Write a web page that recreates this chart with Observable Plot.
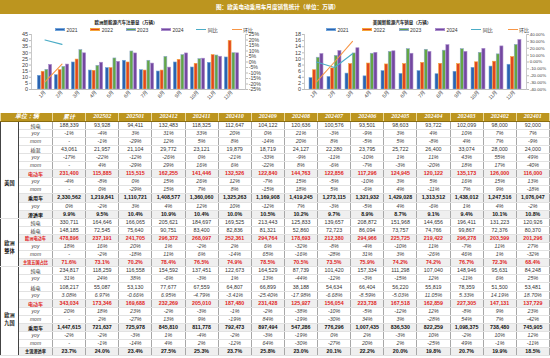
<!DOCTYPE html>
<html><head><meta charset="utf-8">
<script src="https://cdn.jsdelivr.net/npm/d3@7"></script>
<script src="https://cdn.jsdelivr.net/npm/@observablehq/plot@0.6"></script>
<style>
body{margin:0;width:550px;height:358px;overflow:hidden;background:#fff;position:relative;font-family:"Liberation Sans",Arial,"Noto Sans CJK SC",sans-serif}
#titlebar{position:absolute;left:0;top:0;width:550px;height:14px;background:#BC951F;color:#fff;font-family:"Noto Sans CJK SC";font-weight:bold;font-size:5.6px;line-height:14px;white-space:nowrap}
#titlebar span{position:absolute;left:216px;top:0}
.ctitle{position:absolute;font-family:"Noto Sans CJK SC";font-weight:bold;font-size:4.5px;line-height:6px;color:#222;white-space:nowrap;transform:translateX(-50%)}
.leg{position:absolute;height:6px;font-size:5px;line-height:6px;color:#333;white-space:nowrap}
.leg i{position:absolute;left:0;top:1.5px;width:10px;height:3px;box-sizing:border-box;border:0.6px solid}
.leg b{position:absolute;left:0;top:2.6px;width:10px;height:0;border-top:1.1px solid}
.leg span{position:absolute;left:11.5px;top:0;font-family:"Liberation Sans","Noto Sans CJK SC"}
.chart{position:absolute;top:31px}
#tbl{position:absolute;left:0;top:113px;border-collapse:collapse;table-layout:fixed;width:549px;font-size:5.3px;color:#333}
#tbl tr{height:8.1px}
#tbl td{padding:0;text-align:center;line-height:7px;border-left:1px solid #a8a8a8;border-right:1px solid #a8a8a8;border-bottom:1px solid #e2e2e2;white-space:nowrap;overflow:hidden}
#tbl td.lab{font-family:"Noto Sans CJK SC";font-size:5px}
#tbl td.sec{font-family:"Noto Sans CJK SC";font-weight:bold;font-size:5.2px;line-height:8px;color:#222;border-right:1px solid #444;border-left:1px solid #444}
#tbl tr.head td{background:#BC951F;color:#fff;font-family:"Liberation Serif";font-style:italic;font-weight:bold;font-size:6px;border-left:1px solid #e9d9a0;border-right:1px solid #e9d9a0;border-bottom:1px solid #8a6d10}
#tbl tr.first td{border-top:1px solid #333}
#tbl td.thick{border-left:1px solid #555}
#tbl tr.i td{font-style:italic;color:#444}
#tbl tr.i td.lab{font-family:"Liberation Sans";font-style:italic}
#tbl tr.b td{font-weight:bold;background:#efefef;color:#111}
#tbl tr.r td{font-weight:bold;background:#efefef;color:#E01E1E}
</style>
</head><body>
<div id="titlebar"><span>图：欧美电动乘用车月度销售统计（单位：万辆）</span></div>
<div id="root"></div>
<script>
// ---------- chart data (万辆) ----------
const months = ["1月","2月","3月","4月","5月","6月","7月","8月","9月","10月","11月","12月"];
const years = ["2021","2022","2023","2024"];
const eu2021 = [11.2,11.7,22.1,15.5,17.5,23.5,15.8,14.7,22.1,18.0,21.8,26.2];
const eu2022 = [14.5,15.8,24.5,15.3,17.5,22.1,15.5,15.5,24.3,21.0,28.1,39.8];
const eu2023 = [16.1,18.5,32.2,19.4,25.4,31.1,23.5,26.7,28.1,24.8,27.8,29.7];
const eu2024 = [20.1,20.4,29.6,21.9,22.6,29.5,21.2,17.9,29.5,25.2,26.8,29.6];
const euYoy = [20,16];      // 同比 %
const euMom = [-18,-2];     // 环比 %
const us2021 = [3.7,4.1,5.2,4.3,6.0,5.1,6.0,5.0,5.8,7.1,7.5,8.1];
const us2022 = [6.3,6.9,8.3,8.5,8.2,8.3,8.7,8.4,8.3,8.9,9.1,10.6];
const us2023 = [10.4,11.0,11.8,11.7,12.3,13.2,13.0,12.7,13.2,12.0,11.5,14.6];
const us2024 = [11.6,12.6,13.5,12.0,12.5,11.7,12.3,14.5,12.3,13.3,14.1,16.2];
const usYoy = [0,-8,12];
const usMom = [-29,0,30];
const legendNames = ["2021","2022","2023","2024","同比","环比"];

// ---------- table data (辆) ----------
const tableCols = ["累计","202502","202501","202412","202411","202410","202409","202408","202407","202406","202405","202404","202403","202402","202401"];
const usBev = ["188,339","93,928","94,411","132,483","118,325","112,647","104,122","120,636","100,576","93,501","98,603","93,722","102,099","98,000","92,000"];
const usBevYoy = ["-1%","-4%","3%","31%","33%","20%","0%","21%","-3%","-9%","3%","4%","10%","7%","7%"];
const usBevMom = ["-","-1%","-29%","12%","5%","8%","-14%","20%","8%","-5%","5%","-8%","4%","7%","-9%"];
const usPhev = ["43,061","21,957","21,104","29,772","23,121","19,879","18,719","24,127","22,280","23,795","25,722","26,400","33,074","28,000","24,000"];
const usPhevYoy = ["-17%","-22%","-12%","-26%","0%","-21%","-33%","-9%","-11%","-10%","1%","11%","43%","55%","49%"];
const usPhevMom = ["-","4%","-29%","29%","16%","6%","-22%","8%","-6%","-7%","-3%","-20%","18%","17%","-40%"];
const usEv = ["231,400","115,885","115,515","162,255","141,446","132,526","122,840","144,763","122,856","117,296","124,945","120,122","135,173","126,000","116,000"];
const usEvYoy = ["-4%","-8%","0%","15%","26%","12%","-7%","15%","-5%","-10%","3%","5%","16%","15%","13%"];
const usEvMom = ["-","0%","-29%","15%","7%","8%","-15%","18%","5%","-6%","4%","-11%","7%","9%","-18%"];
const usPv = ["2,330,562","1,219,841","1,110,721","1,408,577","1,360,060","1,325,263","1,169,908","1,419,245","1,273,115","1,321,932","1,429,028","1,313,512","1,438,012","1,247,516","1,076,047"];
const usPvYoy = ["0%","-2%","3%","4%","12%","10%","-12%","7%","-3%","-5%","4%","-6%","1%","4%","-2%"];
const usPen = ["9.9%","9.5%","10.4%","10.9%","10.4%","10.0%","10.5%","10.2%","9.7%","8.9%","8.7%","9.1%","9.4%","10.1%","10.8%"];
const euBev = ["330,711","164,646","166,065","205,621","184,697","169,525","213,443","125,833","139,657","208,872","151,968","144,656","196,411","131,223","120,926"];
const euPhev = ["148,185","72,545","75,640","90,751","83,400","82,836","81,321","52,860","72,723","86,094","73,757","74,766","99,867","72,376","80,370"];
const euEv = ["478,896","237,191","241,705","296,372","268,097","252,361","294,764","178,693","212,380","294,966","225,725","219,422","296,278","203,599","201,296"];
const euEvYoy = ["18%","16%","20%","1%","-2%","2%","6%","-32%","-8%","-4%","-10%","11%","-7%","11%","27%"];
const euEvMom = ["-","-2%","-18%","11%","6%","-14%","65%","-16%","-28%","31%","3%","-26%","46%","1%","-32%"];
const euShare = ["71.6%","73.1%","70.2%","78.4%","76.5%","74.9%","78.5%","70.5%","73.5%","75.9%","74.2%","74.2%","76.7%","72.3%","68.4%"];
const e9Bev = ["234,817","118,259","116,558","154,592","137,451","122,673","164,529","87,739","101,420","157,334","111,298","107,040","148,946","95,631","84,248"];
const e9BevYoy = ["31%","24%","38%","-6%","-3%","1%","13%","-44%","-12%","-3%","-15%","12%","-11%","6%","25%"];
const e9Phev = ["108,217","55,087","53,130","77,677","67,559","64,807","66,899","38,188","54,634","66,404","56,220","55,819","78,359","51,500","53,481"];
const e9PhevYoy = ["3.08%","6.97%","-0.66%","6.95%","-4.79%","-3.41%","-25.40%","-17.98%","-6.68%","-8.59%","-5.03%","11.05%","5.33%","14.19%","18.70%"];
const e9Ev = ["343,034","173,346","169,688","232,269","205,010","187,480","231,428","125,927","156,054","223,738","167,518","162,859","227,305","147,131","137,729"];
const e9EvYoy = ["20%","18%","23%","-2%","-3%","-1%","-2%","-38%","-10%","-5%","-12%","12%","-8%","9%","23%"];
const e9EvMom = ["-","2%","-27%","13%","9%","-19%","84%","-19%","-30%","34%","3%","-28%","54%","7%","-42%"];
const e9Pv = ["1,447,615","721,637","725,978","845,810","811,778","792,473","897,494","547,286","776,296","1,007,435","836,530","822,259","1,098,375","738,480","745,905"];
const e9PvYoy = ["-2%","-2%","-3%","1%","-4%","-2%","-3%","-19%","0%","2%","-3%","10%","-2%","10%","12%"];
const e9PvMom = ["-","-1%","-14%","4%","2%","-12%","64%","-30%","-27%","20%","2%","-25%","49%","-1%","-11%"];
const e9Pen = ["23.7%","24.0%","23.4%","27.5%","25.3%","23.7%","25.8%","23.0%","20.1%","22.2%","20.0%","19.8%","20.7%","19.9%","18.5%"];

const sections = [
  {label:"美国", rows:[["纯电",usBev],["yoy",usBevYoy],["mom",usBevMom],["插混",usPhev],["yoy",usPhevYoy],["mom",usPhevMom],["电动车",usEv],["yoy",usEvYoy],["mom",usEvMom],["乘用车",usPv],["yoy",usPvYoy],["渗透率",usPen]]},
  {label:"欧洲<br>整体", rows:[["纯电",euBev],["插电",euPhev],["欧洲电动车",euEv],["yoy",euEvYoy],["mom",euEvMom],["主流五国占比",euShare]]},
  {label:"欧洲<br>九国", rows:[["纯电",e9Bev],["yoy",e9BevYoy],["插电",e9Phev],["yoy ",e9PhevYoy],["电动车",e9Ev],["yoy",e9EvYoy],["mom",e9EvMom],["乘用车",e9Pv],["yoy",e9PvYoy],["mom",e9PvMom],["主流渗透率",e9Pen]]}
];

// ---------- styles ----------
const barFill = ["#2B63B0","#E2461F","#63A744","#7448A0"];
const barStroke = ["#6FA3DA","#F5A43A","#8FA8C8","#A88BCB"];
const yoyColor = "#4BACC6", momColor = "#F79646";
const rowKind = {"电动车":"r","欧洲电动车":"r","主流五国占比":"r","乘用车":"b","渗透率":"b","主流渗透率":"b","yoy":"i","mom":"i"};
const thickBefore = new Set(["累计","202502","202409","202402"]);
const secPad = [26, 8, 16];

const root = document.getElementById("root");

function addChart(o){
  const {left, W, H, mL, mR, mT, mB, series, yMax, yStep, pMin, pMax, pStep, pFmt, rFont, yoy, mom, gwRatio, title, titleX, legX, legStep} = o;
  const t = document.createElement("div");
  t.className = "ctitle"; t.style.left = (left+titleX)+"px"; t.style.top = "18.5px"; t.textContent = title;
  root.appendChild(t);
  legendNames.forEach((n,k)=>{
    const d = document.createElement("div");
    d.className = "leg"; d.style.left = (left+legX+k*legStep)+"px"; d.style.top = "26.5px";
    d.innerHTML = (k<4 ? `<i style="background:${barFill[k]};border-color:${barStroke[k]}"></i>` : `<b style="border-color:${k==4?yoyColor:momColor}"></b>`) + `<span>${n}</span>`;
    root.appendChild(d);
  });
  const bw = (W-mL-mR)/months.length, gw = bw*gwRatio, barW = gw/4;
  const toY = p => (p-pMin)/(pMax-pMin)*yMax;
  const fromY = v => Math.round(v/yMax*(pMax-pMin)+pMin);
  const marks = [];
  marks.push(Plot.frame({anchor:"left", stroke:"#c8c8c8"}));
  marks.push(Plot.frame({anchor:"right", stroke:"#c8c8c8"}));
  years.forEach((yr,j)=>{
    const il = (bw-gw)/2 + j*barW;
    marks.push(Plot.barY(months.map((m,i)=>({month:m, year:yr, v:series[j][i]})), {
      x:"month", y:"v", fill:barFill[j], stroke:barStroke[j], strokeWidth:0.6,
      insetLeft: il, insetRight: bw-il-barW
    }));
  });
  marks.push(Plot.ruleY([0], {stroke:"#bdbdbd"}));
  marks.push(Plot.lineY(yoy.map((p,i)=>({month:months[i], v:toY(p)})), {x:"month", y:"v", stroke:yoyColor, strokeWidth:1.1}));
  marks.push(Plot.lineY(mom.map((p,i)=>({month:months[i], v:toY(p)})), {x:"month", y:"v", stroke:momColor, strokeWidth:1.1}));
  marks.push(Plot.axisX({tickRotate:-45, tickSize:0, tickPadding:2, label:null, fontSize:5}));
  marks.push(Plot.axisY(d3.range(0, yMax+0.001, yStep), {anchor:"left", tickSize:2, tickPadding:1.5, label:null, stroke:"#bbb"}));
  marks.push(Plot.axisY(d3.range(pMin, pMax+0.001, pStep).map(toY), {anchor:"right", tickSize:2, tickPadding:1.2, label:null, stroke:"#bbb", fontSize:rFont, tickFormat: v => pFmt(fromY(v))}));
  const svg = Plot.plot({
    width:W, height:H, marginLeft:mL, marginRight:mR, marginTop:mT, marginBottom:mB,
    x:{domain:months, padding:0},
    y:{domain:[0,yMax]},
    style:{fontSize:"5.5px", fontFamily:"'Liberation Sans','Noto Sans CJK SC',sans-serif", color:"#404040", background:"transparent", overflow:"visible"},
    marks
  });
  const wrap = document.createElement("div");
  wrap.className = "chart"; wrap.style.left = left+"px";
  wrap.appendChild(svg);
  root.appendChild(wrap);
}

addChart({left:0, W:275, H:82, mL:31, mR:30, mT:3, mB:24, series:[eu2021,eu2022,eu2023,eu2024],
  yMax:45, yStep:5, pMin:-25, pMax:25, pStep:5, pFmt:p=>p+"%", rFont:5.2, yoy:euYoy, mom:euMom, gwRatio:0.84,
  title:"欧洲新能源汽车注册量（万辆）", titleX:126, legX:55, legStep:35.3});
addChart({left:275, W:275, H:82, mL:29, mR:24, mT:3, mB:24, series:[us2021,us2022,us2023,us2024],
  yMax:18, yStep:2, pMin:-40, pMax:40, pStep:10, pFmt:p=>p.toFixed(2)+"%", rFont:4.4, yoy:usYoy, mom:usMom, gwRatio:0.78,
  title:"美国新能源汽车销量（万辆）", titleX:127, legX:51, legStep:36.3});

// ---------- table ----------
const tbl = document.createElement("table");
tbl.id = "tbl";
let html = `<colgroup><col style="width:18px"><col style="width:34px">` + tableCols.map(()=>`<col style="width:33.13px">`).join("") + `</colgroup>`;
html += `<tr class="head"><td colspan="2">单位：辆</td>` + tableCols.map(c=>`<td${thickBefore.has(c)?' class="thick"':''} style="font-family:${c==='累计'?"'Noto Sans CJK SC'":"'Liberation Serif'"}">${c}</td>`).join("") + `</tr>`;
sections.forEach((sec,s)=>{
  sec.rows.forEach(([lab, vals], r)=>{
    const key = lab.trim();
    const kind = rowKind[key] || "n";
    html += `<tr class="${kind}${r===0?' first':''}">`;
    if (r===0) html += `<td class="sec" rowspan="${sec.rows.length}" style="padding-top:${secPad[s]}px">${sec.label}</td>`;
    const fs = key.length>=5 ? "font-size:4.2px;" : "";
    html += `<td class="lab" style="${fs}">${key}</td>`;
    html += vals.map((v,c)=>`<td${thickBefore.has(tableCols[c])?' class="thick"':''}>${v}</td>`).join("");
    html += `</tr>`;
  });
});
tbl.innerHTML = html;
root.appendChild(tbl);
</script>
</body></html>
